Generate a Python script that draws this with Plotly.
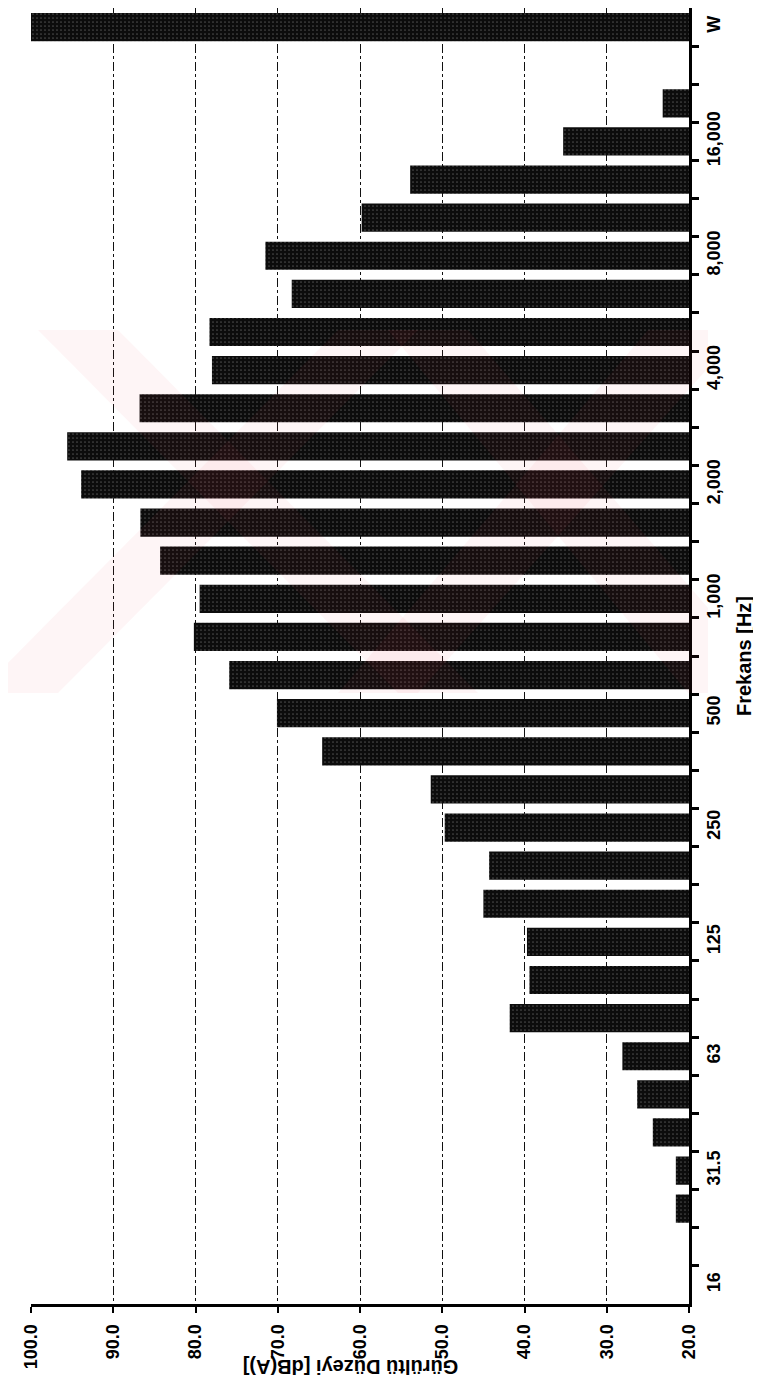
import plotly.graph_objects as go

# third-octave bands, bottom to top; "" is the empty slot before W
bands = ['16', '20', '25', '31.5', '40', '50', '63', '80', '100', '125', '160', '200',
         '250', '315', '400', '500', '630', '800', '1000', '1250', '1600', '2000',
         '2500', '3150', '4000', '5000', '6300', '8000', '10000', '12500', '16000',
         '20000', '', 'W']
levels = [None, None, 21.6, 21.6, 24.4, 26.3, 28.1, 41.8, 39.4, 39.7, 45.0, 44.3,
          49.7, 51.4, 64.6, 70.1, 75.9, 80.2, 79.5, 84.3, 86.7, 93.9,
          95.6, 86.8, 78.0, 78.3, 68.3, 71.5, 59.8, 53.9, 35.3,
          23.2, None, 100.0]
labelled = {'16': '16', '31.5': '31.5', '63': '63', '125': '125', '250': '250',
            '500': '500', '1000': '1,000', '2000': '2,000', '4000': '4,000',
            '8000': '8,000', '16000': '16,000', 'W': 'W'}
x_ticks = [100, 90, 80, 70, 60, 50, 40, 30, 20]

pos = list(range(len(bands)))
tick_pos = [i for i, b in enumerate(bands) if b in labelled]
tick_txt = [labelled[bands[i]] for i in tick_pos]
edges = [i + 0.5 for i in pos[:-1]]

W, H = 761, 1390
L, R, T, B = 23, 80, 0, 94
FONT = 'Liberation Sans'

bars = go.Bar(
    y=pos, x=levels, orientation='h',
    marker=dict(color='#0c0c0c', line=dict(width=0),
                pattern=dict(shape='.', fgcolor='#8a8a8a', size=4, solidity=0.14)),
    width=0.74,
    hoverinfo='x+y',
)


def px2paper(pts):
    pw, ph = W - L - R, H - T - B
    return [((x - L) / pw, (H - B - y) / ph) for x, y in pts]


def band_path(pts):
    p = px2paper(pts)
    return 'M ' + ' L '.join('{:.4f},{:.4f}'.format(a, b) for a, b in p) + ' Z'


# faint pink watermark from the scan
stripes = [
    [(30, 322), (110, 322), (470, 685), (390, 685)],
    [(330, 322), (410, 322), (50, 685), (-30, 685)],
    [(380, 322), (460, 322), (700, 600), (700, 685), (680, 685)],
    [(640, 322), (700, 322), (700, 360), (410, 685), (330, 685)],
]
shapes = [dict(type='path', xref='paper', yref='paper', path=band_path(s),
               fillcolor='rgba(230,60,80,0.05)', line=dict(width=0), layer='above')
          for s in stripes]

layout = go.Layout(
    width=W, height=H,
    margin=dict(l=L, r=R, t=T, b=B),
    paper_bgcolor='white', plot_bgcolor='white',
    showlegend=False,
    font=dict(family=FONT, size=18, color='black', weight='bold'),
    xaxis=dict(
        range=[100, 20], tickvals=x_ticks, tickformat='.1f', tickangle=-90,
        ticks='outside', ticklen=6, tickwidth=2, tickcolor='black',
        ticklabelstandoff=4,
        showline=True, linewidth=3, linecolor='black',
        showgrid=True, gridcolor='#111', gridwidth=1, griddash='dashdot',
        zeroline=False,
    ),
    yaxis=dict(
        side='right', range=[-0.5, len(bands) - 0.5],
        tickvals=tick_pos, ticktext=tick_txt, tickangle=-90,
        ticks='', ticklabelstandoff=6,
        minor=dict(tickvals=edges, ticks='outside', ticklen=7, tickwidth=3,
                   tickcolor='black', showgrid=False),
        showline=True, linewidth=3, linecolor='black',
        showgrid=False, zeroline=False,
    ),
    shapes=shapes,
    annotations=[
        dict(text='Gürültü Düzeyi [dB(A)]', textangle=180, xref='paper', yref='paper',
             x=0.485, y=-0.0585, showarrow=False, font=dict(size=20)),
        dict(text='Frekans [Hz]', textangle=-90, xref='paper', yref='paper',
             x=(749 - L) / (W - L - R), y=0.5, showarrow=False, font=dict(size=20)),
    ],
)

fig = go.Figure(data=[bars], layout=layout)
fig.write_html('out.html')
